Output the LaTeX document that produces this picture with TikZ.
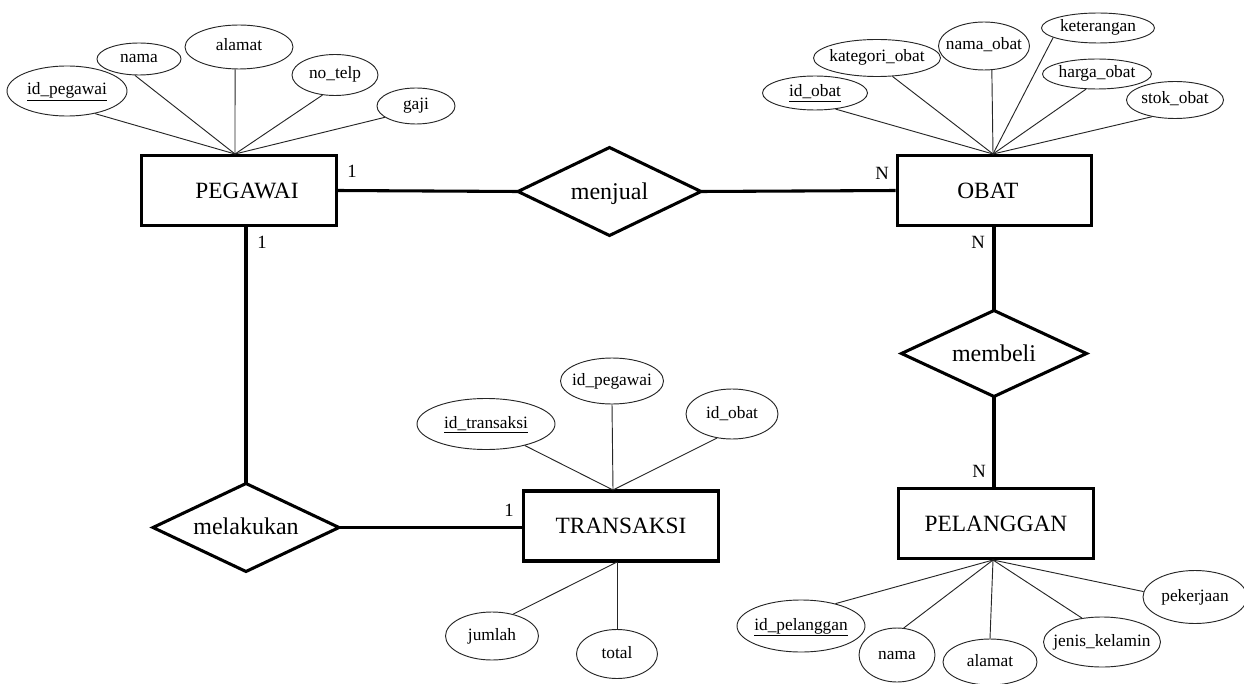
\documentclass[tikz,border=0pt]{standalone}
\usepackage{fontspec}
\setmainfont{Liberation Serif}
\usetikzlibrary{shapes.geometric}
\begin{document}
\begin{tikzpicture}[x=0.75pt,y=-0.75pt,
  entity/.style={draw, line width=2.3pt, minimum width=146pt, minimum height=52.5pt, inner sep=0pt, font=\fontsize{17.5}{20}\selectfont},
  rel/.style 2 args={draw, diamond, line width=2.3pt, inner sep=0pt, outer sep=0pt, text height=6pt, text depth=0pt, minimum width=#1*0.75pt, minimum height=#2*0.75pt, font=\fontsize{18}{20}\selectfont},
  attr/.style 2 args={draw=black!85, ellipse, line width=0.7pt, inner sep=0pt, text height=9pt, text depth=3pt, minimum width=#1*0.75pt, minimum height=#2*0.75pt, font=\fontsize{13}{15}\selectfont},
  link/.style={line width=2.3pt},
  aline/.style={line width=0.7pt, draw=black!85},
  card/.style={inner sep=0pt, font=\fontsize{14}{16}\selectfont}
]
\useasboundingbox (0,0) rectangle (1244,684);

% entities
\node[entity] (peg) at (239,190.5) {\hspace*{12pt}PEGAWAI};
\node[entity] (obat) at (994.5,190.5) {OBAT\hspace*{10pt}};
\node[entity] (trans) at (621,526) {TRANSAKSI};
\node[entity] (pel) at (996,523.5) {PELANGGAN};

% relationships
\node[rel={183}{88}] (menjual) at (609.5,191.5) {\makebox[0pt]{\raisebox{-3pt}{menjual}}};
\node[rel={185}{86}] (membeli) at (994,353.5) {\makebox[0pt]{\raisebox{-3pt}{membeli}}};
\node[rel={186}{88}] (melakukan) at (246,527.5) {\makebox[0pt]{\raisebox{-2pt}{melakukan}}};

% convergence points
\coordinate (pegtop) at (235,154);
\coordinate (obattop) at (993,154);
\coordinate (transtop) at (613,490);
\coordinate (transbot) at (617,562);
\coordinate (pelbot) at (993,560);

% PEGAWAI attributes
\node[attr={120}{50}] (pidp) at (67,91) {\makebox[0pt]{\underline{id\_pegawai}}};
\node[attr={84}{32}] (pnama) at (139,59) {\makebox[0pt]{nama}};
\node[attr={108}{44}] (palamat) at (239,47) {\makebox[0pt]{alamat}};
\node[attr={86}{41}] (ptelp) at (335,75) {\makebox[0pt]{no\_telp}};
\node[attr={78}{36}] (pgaji) at (416,106) {\makebox[0pt]{gaji}};
\draw[aline] (pidp.-39) -- (pegtop);
\draw[aline] (pnama.-104) -- (pegtop);
\draw[aline] (palamat.-100) -- (pegtop);
\draw[aline] (ptelp.-122) -- (pegtop);
\draw[aline] (pgaji.-160) -- (pegtop);

% OBAT attributes
\node[attr={105}{34}] (oid) at (815,93) {\makebox[0pt]{\underline{id\_obat}}};
\node[attr={127}{37}] (okat) at (877,58) {\makebox[0pt]{kategori\_obat}};
\node[attr={91}{48}] (onama) at (984,46) {\makebox[0pt]{nama\_obat}};
\node[attr={113}{30}] (oket) at (1098,28) {\makebox[0pt]{keterangan}};
\node[attr={109}{30}] (oharga) at (1097,74) {\makebox[0pt]{harga\_obat}};
\node[attr={97}{37}] (ostok) at (1175,100) {\makebox[0pt]{stok\_obat}};
\draw[aline] (oid.-38) -- (obattop);
\draw[aline] (okat.-50) -- (obattop);
\draw[aline] (onama.-72) -- (obattop);
\draw[aline] (oket.-168) -- (obattop);
\draw[aline] (oharga.-126) -- (obattop);
\draw[aline] (ostok.-144) -- (obattop);

% TRANSAKSI attributes
\node[attr={138}{51}] (tid) at (486,424) {\makebox[0pt]{\underline{id\_transaksi}}};
\node[attr={103}{46}] (tpeg) at (612,381) {\makebox[0pt]{id\_pegawai}};
\node[attr={92}{50}] (tobat) at (732,414) {\makebox[0pt]{id\_obat}};
\node[attr={93}{48}] (tjml) at (492,636) {\makebox[0pt]{jumlah}};
\node[attr={81}{49}] (ttot) at (617,654) {\makebox[0pt]{total}};
\draw[aline] (tid.-29) -- (transtop);
\draw[aline] (tpeg.south) -- (transtop);
\draw[aline] (tobat.-122) -- (transtop);
\draw[aline] (tjml.46) -- (transbot);
\draw[aline] (ttot.north) -- (transbot);

% PELANGGAN attributes
\node[attr={128}{52}] (lid) at (801,626) {\makebox[0pt]{\underline{id\_pelanggan}}};
\node[attr={76}{54}] (lnama) at (897,655) {\makebox[0pt]{nama}};
\node[attr={94}{46}] (lalamat) at (990,662) {\makebox[0pt]{alamat}};
\node[attr={117}{50}] (ljk) at (1102,642) {\makebox[0pt]{jenis\_kelamin}};
\node[attr={104}{53}] (lkerja) at (1195,597) {\makebox[0pt]{pekerjaan}};
\draw[aline] (lid.33) -- (pelbot);
\draw[aline] (lnama.76) -- (pelbot);
\draw[aline] (lalamat.north) -- (pelbot);
\draw[aline] (ljk.130) -- (pelbot);
\draw[aline] (lkerja.174) -- (pelbot);

% relationship links
\draw[link] (peg.east) -- (menjual.west);
\draw[link] (menjual.east) -- (obat.west);
\draw[link] (peg.south -| melakukan.north) -- (melakukan.north);
\draw[link] (melakukan.east) -- (trans.west |- melakukan.east);
\draw[link] (obat.south -| membeli.north) -- (membeli.north);
\draw[link] (membeli.south) -- (pel.north -| membeli.south);

% cardinalities
\node[card] (c1) at (352,171) {1};
\node[card] (c2) at (262,242) {1};
\node[card] (c3) at (882,173) {N};
\node[card] (c4) at (978,242) {N};
\node[card] (c5) at (979,471) {N};
\node[card] (c6) at (509,510) {1};
\end{tikzpicture}
\end{document}
